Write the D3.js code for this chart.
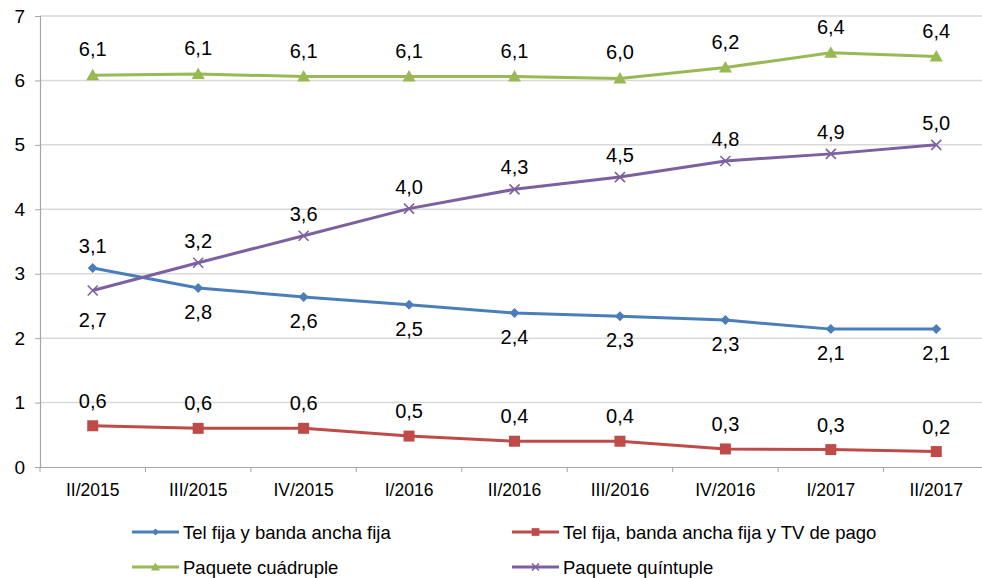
<!DOCTYPE html>
<html>
<head>
<meta charset="utf-8">
<script src="https://cdn.jsdelivr.net/npm/d3@7"></script>
<style>
  body { margin: 0; background: #fff; }
  text { font-family: "Liberation Sans", Arial, sans-serif; fill: #000; }
</style>
</head>
<body>
<div id="chart"></div>
<script>
var svgWidth = 982;
var svgHeight = 578;

// data
var periods = ["II/2015", "III/2015", "IV/2015", "I/2016", "II/2016", "III/2016", "IV/2016", "I/2017", "II/2017"];
var telBanda = [3.09, 2.78, 2.64, 2.52, 2.39, 2.34, 2.28, 2.14, 2.14];
var telBandaTv = [0.64, 0.6, 0.6, 0.48, 0.4, 0.4, 0.28, 0.27, 0.24];
var cuadruple = [6.08, 6.1, 6.06, 6.06, 6.06, 6.03, 6.2, 6.43, 6.37];
var quintuple = [2.74, 3.17, 3.59, 4.01, 4.31, 4.5, 4.75, 4.86, 5.0];
var yTicks = [0, 1, 2, 3, 4, 5, 6, 7];

var margin = { top: 16, right: -7, bottom: 111, left: 40 };
var width = svgWidth - margin.left - margin.right;
var height = svgHeight - margin.top - margin.bottom;

var svg = d3.select("#chart")
  .append("svg")
  .attr("width", svgWidth)
  .attr("height", svgHeight);

var chartGroup = svg.append("g")
  .attr("transform", `translate(${margin.left}, ${margin.top})`);

var xScale = d3.scaleBand()
  .domain(periods)
  .range([0, width]);

var yScale = d3.scaleLinear()
  .domain([0, 7])
  .range([height, 0]);

// gridlines
chartGroup.append("g")
  .selectAll("line")
  .data(yTicks.slice(1))
  .enter()
  .append("line")
  .attr("x1", 0)
  .attr("x2", width)
  .attr("y1", d => yScale(d))
  .attr("y2", d => yScale(d))
  .attr("stroke", "#d9d9d9")
  .attr("stroke-width", 1.5);

// y axis
var leftAxis = d3.axisLeft(yScale).tickValues(yTicks).tickFormat(d3.format("d")).tickSize(5).tickPadding(10);
var yAxis = chartGroup.append("g").call(leftAxis);
yAxis.select(".domain").attr("stroke", "#a6a6a6").attr("stroke-width", 1.2);
yAxis.selectAll(".tick line").attr("stroke", "#a6a6a6");
yAxis.selectAll(".tick text").attr("font-size", "19px").attr("fill", "#111");

// x axis, ticks sit on the band edges
var bottomAxis = d3.axisBottom(xScale).tickSize(0).tickPadding(17);
var xAxis = chartGroup.append("g")
  .attr("transform", `translate(0, ${height})`)
  .call(bottomAxis);
xAxis.select(".domain").attr("stroke", "#a6a6a6").attr("stroke-width", 1.2);
xAxis.selectAll(".tick text").attr("font-size", "17.5px").attr("fill", "#222");
xAxis.append("g")
  .selectAll("line")
  .data(periods)
  .enter()
  .append("line")
  .attr("x1", d => xScale(d))
  .attr("x2", d => xScale(d))
  .attr("y1", 0)
  .attr("y2", 5)
  .attr("stroke", "#a6a6a6");

var series = [
  { name: "Tel fija y banda ancha fija", values: telBanda, color: "#4a7ebb", marker: "diamond",
    above: -15, below: 31, firstAbove: true },
  { name: "Tel fija, banda ancha fija y TV de pago", values: telBandaTv, color: "#be4b48", marker: "square",
    above: -18 },
  { name: "Paquete cuádruple", values: cuadruple, color: "#98b954", marker: "triangle",
    above: -19 },
  { name: "Paquete quíntuple", values: quintuple, color: "#7d60a0", marker: "x",
    above: -15, below: 37, firstBelow: true }
];

var cx = d => xScale(d) + xScale.bandwidth() / 2;

function drawMarker(g, type, color, x, y, scale) {
  var s = scale || 1;
  if (type === "diamond") {
    g.append("path")
      .attr("d", `M${x},${y - 5 * s}L${x + 5 * s},${y}L${x},${y + 5 * s}L${x - 5 * s},${y}Z`)
      .attr("fill", color);
  } else if (type === "square") {
    g.append("rect")
      .attr("x", x - 5.5 * s).attr("y", y - 5.5 * s)
      .attr("width", 11 * s).attr("height", 11 * s)
      .attr("fill", color);
  } else if (type === "triangle") {
    g.append("path")
      .attr("d", `M${x},${y - 6.5 * s}L${x + 6.5 * s},${y + 5 * s}L${x - 6.5 * s},${y + 5 * s}Z`)
      .attr("fill", color);
  } else {
    g.append("path")
      .attr("d", `M${x - 5 * s},${y - 5 * s}L${x + 5 * s},${y + 5 * s}M${x - 5 * s},${y + 5 * s}L${x + 5 * s},${y - 5 * s}`)
      .attr("stroke", color)
      .attr("stroke-width", 1.6)
      .attr("fill", "none");
  }
}

var line = d3.line()
  .x((d, i) => cx(periods[i]))
  .y(d => yScale(d));

var fmt = v => d3.format(".1f")(v).replace(".", ",");

function labelOffset(s, i) {
  if (s.firstAbove) return i === 0 ? s.above : s.below;
  if (s.firstBelow) return i === 0 ? s.below : s.above;
  return s.above;
}

series.forEach(function(s) {
  var g = chartGroup.append("g");
  g.append("path")
    .datum(s.values)
    .attr("d", line)
    .attr("fill", "none")
    .attr("stroke", s.color)
    .attr("stroke-width", 3);
  s.values.forEach(function(v, i) {
    drawMarker(g, s.marker, s.color, cx(periods[i]), yScale(v));
  });
  g.selectAll("text")
    .data(s.values)
    .enter()
    .append("text")
    .attr("x", (d, i) => cx(periods[i]))
    .attr("y", (d, i) => yScale(d) + labelOffset(s, i))
    .attr("text-anchor", "middle")
    .attr("font-size", "20px")
    .attr("fill", "#111")
    .text(d => fmt(d));
});

// legend
var legendItems = [
  { s: series[0], x: 132, y: 532 },
  { s: series[1], x: 512, y: 532 },
  { s: series[2], x: 132, y: 567 },
  { s: series[3], x: 512, y: 567 }
];
var legend = svg.append("g");
legendItems.forEach(function(item) {
  legend.append("line")
    .attr("x1", item.x).attr("x2", item.x + 47)
    .attr("y1", item.y).attr("y2", item.y)
    .attr("stroke", item.s.color)
    .attr("stroke-width", 3);
  drawMarker(legend, item.s.marker, item.s.color, item.x + 23.5, item.y, 0.7);
  legend.append("text")
    .attr("x", item.x + 51)
    .attr("y", item.y + 6.5)
    .attr("font-size", "18.5px")
    .attr("fill", "#222")
    .text(item.s.name);
});
</script>
</body>
</html>
